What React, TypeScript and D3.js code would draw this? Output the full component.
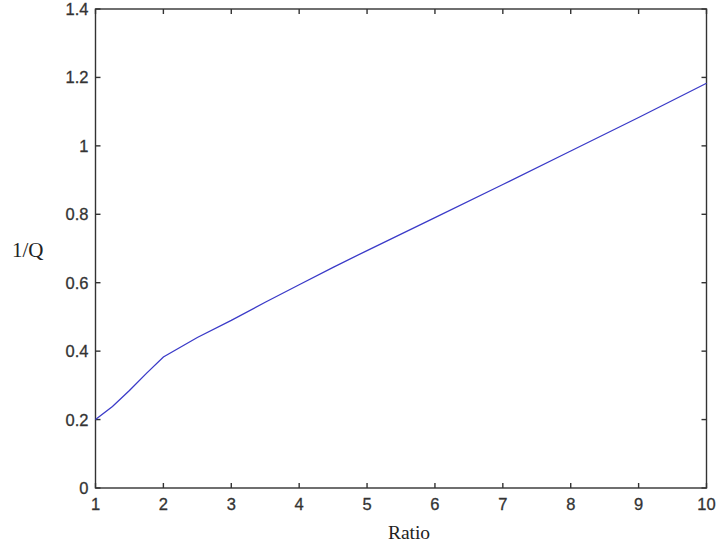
import React, { useRef, useEffect } from "react";
import * as d3 from "d3";

// curve values
const ratio = [1, 1.25, 1.5, 1.75, 2, 2.5, 3, 3.5, 4, 4.5, 5, 6, 7, 8, 9, 10];
const invQ = [0.2, 0.238, 0.285, 0.335, 0.383, 0.44, 0.49, 0.543, 0.594, 0.645, 0.694, 0.79, 0.887, 0.985, 1.083, 1.183];
const xTicks = [1, 2, 3, 4, 5, 6, 7, 8, 9, 10];
const yTicks = [0, 0.2, 0.4, 0.6, 0.8, 1, 1.2, 1.4];

export default function App() {
  const ref = useRef<SVGSVGElement>(null);
  const width = 716, height = 554;

  useEffect(() => {
    const svg = d3.select(ref.current);
    svg.selectAll("*").remove();

    const left = 95.5, right = 706.5, top = 9, bottom = 488;
    const x = d3.scaleLinear().domain([1, 10]).range([left, right]);
    const y = d3.scaleLinear().domain([0, 1.4]).range([bottom, top]);
    const axisColor = "#333";
    const tickLen = 5;
    const sans = "Arial, 'Liberation Sans', sans-serif";
    const serif = "'Times New Roman', 'Liberation Serif', serif";

    // box
    svg.append("rect")
      .attr("x", left).attr("y", top)
      .attr("width", right - left).attr("height", bottom - top)
      .attr("fill", "none").attr("stroke", axisColor).attr("stroke-width", 1.4);

    const g = svg.append("g").attr("stroke", axisColor).attr("stroke-width", 1.4);
    xTicks.forEach((t) => {
      g.append("line").attr("x1", x(t)).attr("x2", x(t)).attr("y1", bottom).attr("y2", bottom - tickLen);
      g.append("line").attr("x1", x(t)).attr("x2", x(t)).attr("y1", top).attr("y2", top + tickLen);
    });
    yTicks.forEach((t) => {
      g.append("line").attr("x1", left).attr("x2", left + tickLen).attr("y1", y(t)).attr("y2", y(t));
      g.append("line").attr("x1", right).attr("x2", right - tickLen).attr("y1", y(t)).attr("y2", y(t));
    });

    // tick labels
    svg.append("g").selectAll("text").data(xTicks).join("text")
      .attr("x", (d) => x(d)).attr("y", bottom + 22)
      .attr("text-anchor", "middle")
      .attr("font-family", sans)
      .attr("font-size", 16.5).attr("fill", "#333")
      .attr("stroke", "#333").attr("stroke-width", 0.3)
      .text((d) => String(d));
    svg.append("g").selectAll("text").data(yTicks).join("text")
      .attr("x", left - 7).attr("y", (d) => y(d) + 6)
      .attr("text-anchor", "end")
      .attr("font-family", sans)
      .attr("font-size", 16.5).attr("fill", "#333")
      .attr("stroke", "#333").attr("stroke-width", 0.3)
      .text((d) => String(d));

    // axis titles
    svg.append("text")
      .attr("x", (left + right) / 2 + 8).attr("y", 539)
      .attr("text-anchor", "middle")
      .attr("font-family", serif)
      .attr("font-size", 19.5).attr("fill", "#222")
      .text("Ratio");
    svg.append("text")
      .attr("x", 12).attr("y", 257)
      .attr("font-family", serif)
      .attr("font-size", 21).attr("fill", "#222")
      .text("1/Q");

    // curve
    const line = d3.line<number>()
      .x((d, i) => x(ratio[i]))
      .y((d) => y(d));
    svg.append("path")
      .datum(invQ)
      .attr("d", line)
      .attr("fill", "none")
      .attr("stroke", "#3b3bc8")
      .attr("stroke-width", 1.3);
  }, []);

  return (
    <svg ref={ref} width={width} height={height}
      style={{ position: "absolute", left: 0, top: 0, background: "#fff" }} />
  );
}
